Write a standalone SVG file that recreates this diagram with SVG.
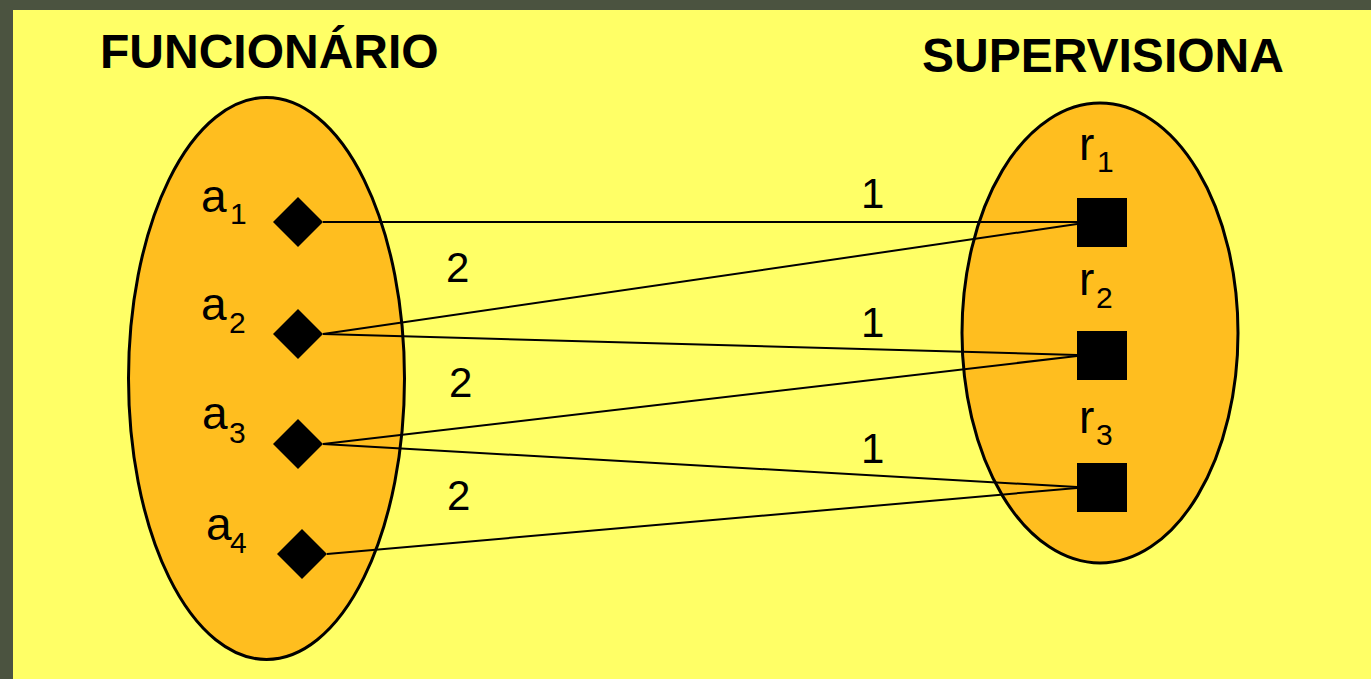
<svg xmlns="http://www.w3.org/2000/svg" width="1371" height="679" viewBox="0 0 1371 679">
<defs>
<style>
.set{fill:#FFBE1F;stroke:#000;stroke-width:3}
.title{font-family:"Liberation Sans",Arial,sans-serif;font-weight:bold;font-size:48px;fill:#000}
.lbl{font-family:"Liberation Sans",Arial,sans-serif;font-size:46px;fill:#000}
.sub{font-size:30px}
.num{font-family:"Liberation Sans",Arial,sans-serif;font-size:42px;fill:#000}
.conn line{stroke:#000;stroke-width:2}
.dia{fill:#000}
.sq{fill:#000}
</style>
</defs>
<rect x="0" y="0" width="1371" height="679" fill="#4B5340"/>
<rect x="13" y="10" width="1358" height="669" fill="#FFFF66"/>
<g id="funcionario">
<ellipse class="set" cx="266.5" cy="378.5" rx="138" ry="281"/>
<text class="title" x="100" y="68">FUNCIONÁRIO</text>
</g>
<g id="supervisiona">
<ellipse class="set" cx="1100" cy="333" rx="138" ry="230"/>
<text class="title" x="922" y="72">SUPERVISIONA</text>
</g>
<g id="connectors" class="conn">
<line x1="323" y1="222" x2="1077" y2="222"/>
<line x1="323" y1="334" x2="1077" y2="224"/>
<line x1="323" y1="334" x2="1077" y2="355"/>
<line x1="323" y1="444" x2="1077" y2="356"/>
<line x1="323" y1="444" x2="1077" y2="487"/>
<line x1="327" y1="554" x2="1077" y2="488"/>
<text class="num" x="861" y="208">1</text>
<text class="num" x="446" y="282">2</text>
<text class="num" x="861" y="337">1</text>
<text class="num" x="449" y="397">2</text>
<text class="num" x="861" y="463">1</text>
<text class="num" x="447" y="510">2</text>
</g>
<g id="a1"><polygon class="dia" points="298,197 323,222 298,247 273,222"/><text class="lbl" x="201" y="212">a<tspan class="sub" x="230" y="224">1</tspan></text></g>
<g id="a2"><polygon class="dia" points="298,309 323,334 298,359 273,334"/><text class="lbl" x="201" y="320">a<tspan class="sub" x="229" y="333">2</tspan></text></g>
<g id="a3"><polygon class="dia" points="298,419 323,444 298,469 273,444"/><text class="lbl" x="202" y="429">a<tspan class="sub" x="229" y="443">3</tspan></text></g>
<g id="a4"><polygon class="dia" points="302,529 327,554 302,579 277,554"/><text class="lbl" x="206" y="540">a<tspan class="sub" x="230" y="553">4</tspan></text></g>
<g id="r1"><rect class="sq" x="1077" y="198" width="50" height="49"/><text class="lbl" x="1079" y="160">r<tspan class="sub" x="1097" y="172">1</tspan></text></g>
<g id="r2"><rect class="sq" x="1077" y="331" width="50" height="49"/><text class="lbl" x="1079" y="295">r<tspan class="sub" x="1096" y="308">2</tspan></text></g>
<g id="r3"><rect class="sq" x="1077" y="463" width="50" height="49"/><text class="lbl" x="1079" y="433">r<tspan class="sub" x="1096" y="445">3</tspan></text></g>
</svg>
